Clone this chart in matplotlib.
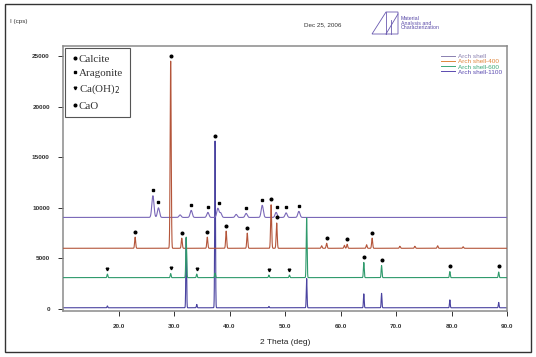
import numpy as np
import matplotlib
matplotlib.use("Agg")
import matplotlib.pyplot as plt
from matplotlib.lines import Line2D
from matplotlib.patches import Rectangle, Polygon

plt.rcParams['font.family'] = ['Liberation Sans', 'DejaVu Sans']

# ==========================
# DATA
# ==========================

series_names = ["Arch shell", "Arch shell-400", "Arch shell-600", "Arch shell-1100"]
series_colors = ["#7a68b8", "#b4553a", "#2f9a6c", "#4a43a0"]
legend_colors = ["#8a80b0", "#e0853c", "#3aa878", "#5a4ab0"]

# baseline level of each pattern (cps)
baselines = [9050, 6000, 3100, 120]

# peak positions (2 theta, deg) and heights (cps)
shell_pos = [26.2, 27.2, 31.1, 33.1, 36.1, 37.9, 38.4, 41.2, 43.0, 45.9, 48.4, 50.2, 52.5]
shell_top = [11200, 10000, 9300, 9750, 9550, 9950, 9500, 9350, 9450, 10250, 9550, 9500, 9650]

s400_pos = [23.0, 29.4, 31.4, 36.0, 39.4, 43.2, 47.5, 48.5, 56.6, 57.5, 60.7, 61.2, 64.7, 65.7, 70.7, 73.4, 77.5, 82.1]
s400_top = [7100, 24500, 7000, 7100, 7700, 7500, 10300, 8500, 6250, 6500, 6300, 6400, 6350, 7000, 6200, 6200, 6250, 6150]

s600_pos = [18.0, 29.4, 32.2, 34.1, 37.4, 47.1, 50.8, 53.9, 64.2, 67.4, 79.7, 88.5]
s600_top = [3450, 3500, 7100, 3450, 3550, 3350, 3350, 9000, 4600, 4300, 3700, 3650]

s1100_pos = [18.0, 32.2, 34.1, 37.4, 47.1, 53.9, 64.2, 67.4, 79.7, 88.5]
s1100_top = [300, 7000, 450, 16600, 250, 3000, 1500, 1550, 900, 650]

peak_pos = [shell_pos, s400_pos, s600_pos, s1100_pos]
peak_top = [shell_top, s400_top, s600_top, s1100_top]
peak_fwhm = [0.45, 0.22, 0.18, 0.16]

# phase marks on peaks
calcite_pos = [23.0, 29.4, 31.4, 36.0, 39.4, 43.2, 47.5, 48.5, 57.5, 61.2, 65.7]
calcite_top = [7100, 24500, 7000, 7100, 7700, 7500, 10300, 8500, 6500, 6400, 7000]

aragonite_pos = [26.2, 27.2, 33.1, 36.1, 38.1, 43.0, 45.9, 48.6, 50.2, 52.5]
aragonite_top = [11200, 10000, 9750, 9550, 9950, 9450, 10250, 9550, 9500, 9650]

caoh2_pos = [18.0, 29.4, 34.1, 47.1, 50.8]
caoh2_top = [3450, 3500, 3450, 3350, 3350]

cao_pos = [37.4, 64.2, 67.4, 79.7, 88.5]
cao_top = [16600, 4600, 4300, 3700, 3650]

phase_names = ["Calcite", "Aragonite", "Ca(OH)$_2$", "CaO"]
phase_markers = ["o", "s", "v", "o"]

x_ticks = [20, 30, 40, 50, 60, 70, 80, 90]
y_ticks = [0, 5000, 10000, 15000, 20000, 25000]

# ==========================
# FIGURE
# ==========================

W, H = 536, 357
fig = plt.figure(figsize=(W / 100, H / 100), dpi=100)
ax = fig.add_axes([63 / W, 1 - 311 / H, (507 - 63) / W, (311 - 46) / H])

tt = np.arange(10, 90.001, 0.01)

order = [3, 0, 1, 2]
for i in order:
    sigma = peak_fwhm[i] / 2.355
    y = np.full_like(tt, baselines[i], dtype=float)
    for p, h in zip(peak_pos[i], peak_top[i]):
        y += (h - baselines[i]) * np.exp(-0.5 * ((tt - p) / sigma) ** 2)
    ax.plot(tt, y, color=series_colors[i], lw=0.8, zorder=2 + order.index(i))

# phase marks
off = 550
for pos, top, m in zip([calcite_pos, aragonite_pos, caoh2_pos, cao_pos],
                       [calcite_top, aragonite_top, caoh2_top, cao_top],
                       phase_markers):
    ax.plot(pos, np.array(top) + off, linestyle="none", marker=m,
            markersize=1.9, color="black", zorder=10)

ax.set_xlim(10, 90)
ax.set_ylim(-200, 26000)
ax.set_xticks(x_ticks)
ax.set_xticklabels([f"{v:.1f}" for v in x_ticks])
ax.set_yticks(y_ticks)
ax.set_yticklabels([str(v) for v in y_ticks])
ax.tick_params(labelsize=4.6, colors="#333333", length=3.5, width=0.7,
               direction="out", pad=6)
for lab in ax.get_xticklabels() + ax.get_yticklabels():
    lab.set_fontweight("bold")
for s in ax.spines.values():
    s.set_color("#8a8a8a")
    s.set_linewidth(1.1)

ax.set_xlabel("2 Theta (deg)", fontsize=6, color="#222222", labelpad=7)

# phase legend (top left)
handles = [Line2D([], [], linestyle="none", marker=m, markersize=1.9, color="black")
           for m in phase_markers]
leg1 = ax.legend(handles, phase_names, loc="upper left",
                 frameon=True, fancybox=False, borderaxespad=0.15,
                 handletextpad=0.1, handlelength=0.6, labelspacing=0.42,
                 borderpad=0.6, framealpha=1,
                 prop={"family": "Liberation Serif", "size": 7.9})
leg1.get_frame().set_edgecolor("#555555")
leg1.get_frame().set_linewidth(0.8)
for t in leg1.get_texts():
    t.set_color("#333333")
ax.add_artist(leg1)

# series legend (top right)
handles2 = [Line2D([], [], color=c, lw=0.7) for c in legend_colors]
leg2 = ax.legend(handles2, series_names, loc="upper right", fontsize=4.6,
                 frameon=False, handlelength=2.2, handletextpad=0.4,
                 labelspacing=-0.05, borderaxespad=0.4, labelcolor=legend_colors,
                 bbox_to_anchor=(1.0, 0.99))

# header texts
fig.text(10 / W, 1 - 22 / H, "I (cps)", fontsize=4.5, color="#333333", va="center")
fig.text(323 / W, 1 - 25 / H, "Dec 25, 2006", fontsize=4.5, color="#333333",
         va="center", ha="center")
fig.text(401 / W, 1 - 23 / H, "Material\nAnalysis and\nCharacterization",
         fontsize=3.8, color="#5a4aa8", va="center", ha="left", linespacing=0.95)

# logo
logo_col = "#6a5ab0"
pts = [(372, 34), (386, 12), (398, 12), (398, 34)]
fig.add_artist(Polygon([(x / W, 1 - y / H) for x, y in pts], closed=True,
                       fill=False, edgecolor=logo_col, lw=0.6,
                       transform=fig.transFigure))
for (x0, y0), (x1, y1) in [((386, 12), (386, 34)), ((386, 34), (398, 14)),
                           ((391, 34), (391, 20))]:
    fig.add_artist(Line2D([x0 / W, x1 / W], [1 - y0 / H, 1 - y1 / H],
                          color=logo_col, lw=0.6, transform=fig.transFigure))

# outer frame
fig.add_artist(Rectangle((5 / W, 1 - 352 / H), (531 - 5) / W, (352 - 4) / H,
                         fill=False, edgecolor="#333333", lw=1.0,
                         transform=fig.transFigure))

fig.savefig("out.png", dpi=100)
